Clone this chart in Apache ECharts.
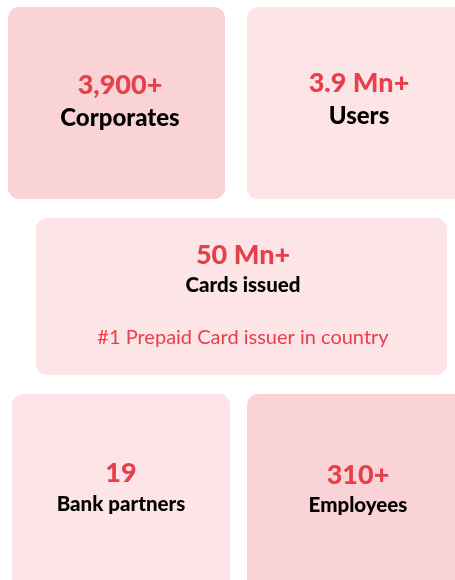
<!DOCTYPE html>
<html>
<head>
<meta charset="utf-8">
<script src="https://cdn.jsdelivr.net/npm/echarts@6/dist/echarts.min.js"></script>
<style>html,body{margin:0;padding:0;background:#fff}#c{width:455px;height:580px}</style>
</head>
<body>
<div id="c"></div>
<script>
// Data
var metricValues = ['3,900+', '3.9 Mn+', '50 Mn+', '19', '310+'];
var metricLabels = ['Corporates', 'Users', 'Cards issued', 'Bank partners', 'Employees'];
var metricNotes = ['', '', '#1 Prepaid Card issuer in country', '', ''];

// Layout (positions / styles)
var cards = [
  {x: 8,   y: 7,   w: 217, h: 192, fill: '#f9d3d5', cx: 120, numY: 85,  numSize: 27, labY: 118, labSize: 24},
  {x: 247, y: 7,   w: 230, h: 192, fill: '#fde5e7', cx: 359, numY: 83,  numSize: 27, labY: 116, labSize: 24},
  {x: 36,  y: 218, w: 411, h: 157, fill: '#fde5e7', cx: 243, numY: 255, numSize: 27, labY: 285, labSize: 20.5, noteY: 338, noteSize: 20},
  {x: 12,  y: 394, w: 218, h: 200, fill: '#fde5e7', cx: 121, numY: 473, numSize: 27, labY: 504, labSize: 20.5},
  {x: 247, y: 394, w: 230, h: 200, fill: '#f9d3d5', cx: 358, numY: 475, numSize: 27, labY: 505, labSize: 20.5}
];
var RED = '#e8404a';
var FONT = 'Lato, "Open Sans", sans-serif';

var elements = [];
cards.forEach(function (c, i) {
  elements.push({
    type: 'rect', shape: {x: c.x, y: c.y, width: c.w, height: c.h, r: 11},
    style: {fill: c.fill}, silent: true
  });
  elements.push({
    type: 'text', x: c.cx, y: c.numY,
    style: {text: metricValues[i], fill: RED, font: '900 ' + c.numSize + 'px ' + FONT,
            textAlign: 'center', textVerticalAlign: 'middle'}
  });
  elements.push({
    type: 'text', x: c.cx, y: c.labY,
    style: {text: metricLabels[i], fill: '#000', font: '900 ' + c.labSize + 'px ' + FONT,
            textAlign: 'center', textVerticalAlign: 'middle'}
  });
  if (metricNotes[i]) {
    elements.push({
      type: 'text', x: c.cx, y: c.noteY,
      style: {text: metricNotes[i], fill: RED, font: c.noteSize + 'px ' + FONT,
              textAlign: 'center', textVerticalAlign: 'middle'}
    });
  }
});

var chart = echarts.init(document.getElementById('c'), null, {renderer: 'canvas'});
chart.setOption({
  backgroundColor: '#ffffff',
  animation: false,
  graphic: {elements: elements}
});
</script>
</body>
</html>
